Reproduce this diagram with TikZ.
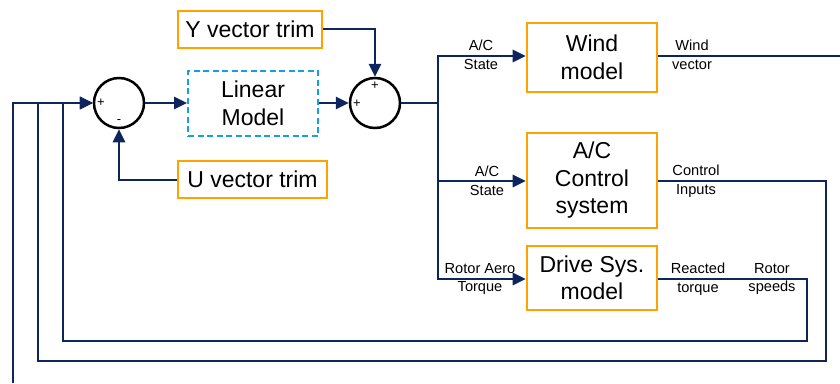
\documentclass[tikz,border=0pt]{standalone}
\usepackage{fontspec}
\setmainfont{Liberation Sans}
\usetikzlibrary{arrows.meta}
\definecolor{boxorange}{RGB}{255,162,0}
\definecolor{modelblue}{RGB}{20,160,225}
\definecolor{signavy}{RGB}{14,36,92}
\tikzset{
  block/.style={draw=boxorange, line width=2.6pt, align=center,
    font=\fontsize{23}{27.5}\selectfont, inner sep=0pt},
  linbox/.style={draw=modelblue, line width=2pt, dash pattern=on 6pt off 3.5pt,
    align=center, font=\fontsize{23}{27.5}\selectfont, inner sep=0pt},
  summer/.style={circle, draw=black, line width=2.5pt, minimum size=50pt, inner sep=0pt},
  sig/.style={draw=signavy, line width=1.7pt},
  sigarrow/.style={sig, -{Triangle[length=13pt,width=12.5pt]}},
  lbl/.style={font=\fontsize{14.6}{18.5}\selectfont, align=center, inner sep=0pt},
  sgn/.style={font=\fontsize{13}{13}\selectfont, inner sep=0pt}
}
\begin{document}
\begin{tikzpicture}[x=1pt,y=-1pt]
\useasboundingbox (0,0) rectangle (840,383);

% blocks
\node[block, minimum width=144pt, minimum height=37pt] (ytrim) at (250,29.5) {Y vector trim};
\node[block, minimum width=149pt, minimum height=37pt] (utrim) at (252.5,179.5) {U vector trim};
\node[linbox, minimum width=130pt, minimum height=65pt] (lin) at (253,103.5) {Linear\\Model};
\node[block, minimum width=130pt, minimum height=69pt] (wind) at (592,57.5) {Wind\\model};
\node[block, minimum width=130pt, minimum height=95pt] (ctrl) at (592,180.5) {A/C\\Control\\system};
\node[block, minimum width=130pt, minimum height=64pt] (drive) at (592,278) {Drive Sys.\\model};

% summing junctions
\node[summer] (s1) at (119,103) {};
\node[summer] (s2) at (375,103) {};
\node[sgn] (s1p) at (101,103) {+};
\node[sgn] (s1m) at (119,122) {-};
\node[sgn] (s2t) at (375,86) {+};
\node[sgn] (s2l) at (357,104) {+};

% bus and free ends
\coordinate (bus) at (438,103);
\coordinate (windout) at (840,56);
\coordinate (loopin) at (13,383);

% forward path
\draw[sigarrow] (s1.east) -- (lin.west |- s1.east);
\draw[sigarrow] (lin.east |- s2.west) -- (s2.west);
\draw[sigarrow] (ytrim.east |- 0,29) -| (s2.north);
\draw[sigarrow] (utrim.west |- 0,180) -| (s1.south);
\draw[sig] (s2.east) -- (bus);
\draw[sigarrow] (bus) |- (wind.west |- 0,56);
\draw[sigarrow] (bus) |- (ctrl.west |- 0,181);
\draw[sigarrow] (bus) |- (drive.west |- 0,279);

% outputs and feedback loops
\draw[sig] (wind.east |- 0,56) -- (windout);
\draw[sigarrow] (ctrl.east |- 0,181) -- (826,181) -- (826,361) -- (38,361) -- (38,103) -- (s1.west);
\draw[sigarrow] (drive.east |- 0,279) -- (807,279) -- (807,341) -- (63,341) -- (63,103) -- (s1.west);
\draw[sigarrow] (loopin) -- (13,103) -- (s1.west);

% signal labels
\node[lbl] (l1) at (481,55) {A/C\\State};
\node[lbl] (l2) at (487,181) {A/C\\State};
\node[lbl] (l3) at (480,279) {Rotor Aero\\Torque};
\node[lbl] (l4) at (692,55) {Wind\\vector};
\node[lbl] (l5) at (696,181) {Control\\Inputs};
\node[lbl] (l6) at (698,279) {Reacted\\torque};
\node[lbl] (l7) at (772,279) {Rotor\\speeds};
\end{tikzpicture}
\end{document}
